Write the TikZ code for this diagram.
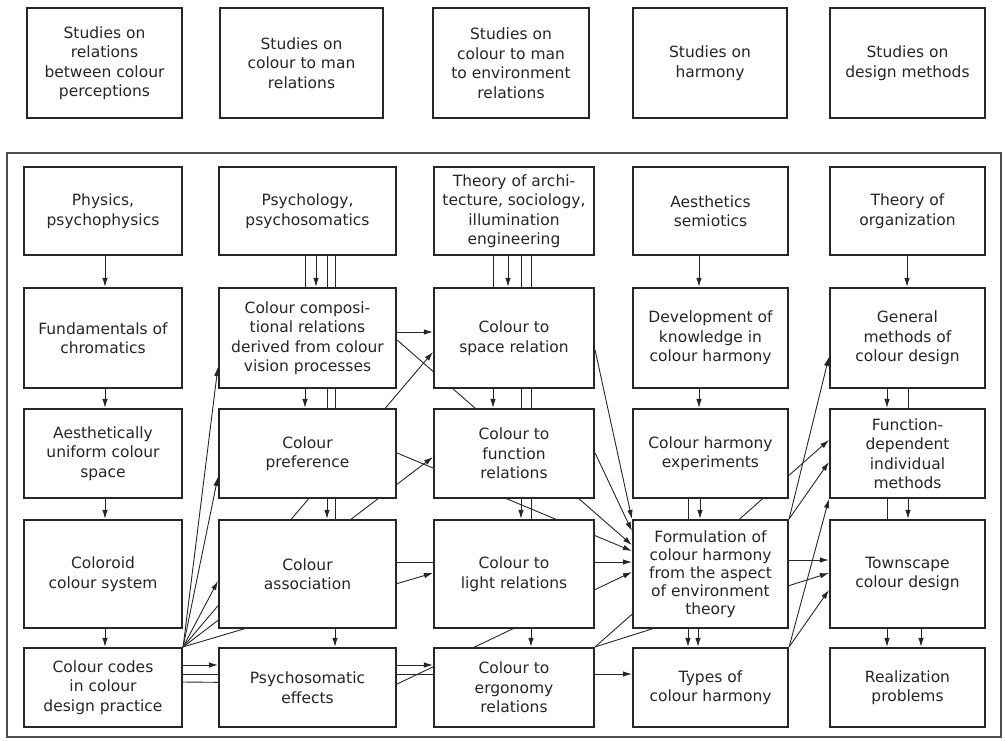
\documentclass[tikz,border=0pt]{standalone}
\usepackage{fontspec}
\setmainfont{DejaVu Sans}
\usetikzlibrary{arrows.meta}
\pgfdeclarelayer{bg}
\pgfsetlayers{bg,main}
\begin{document}
\begin{tikzpicture}[x=1pt,y=-1pt,
  box/.style={draw=black!85, line width=2.2pt, fill=white, align=center, inner sep=0pt,
    font=\fontsize{15.5}{19.5}\selectfont, text=black!85},
  conn/.style={draw=black!85, line width=0.9pt},
  arr/.style={conn, -{Latex[length=9pt,width=5.5pt]}},
  frame/.style={draw=black!70, line width=1.1pt}]
\useasboundingbox (0,0) rectangle (1006,740);
% top row
\node[box, minimum width=155, minimum height=110] (T1) at (104.5,63) {Studies on\\relations\\between colour\\perceptions};
\node[box, minimum width=163, minimum height=110] (T2) at (301.5,63) {Studies on\\colour to man\\relations};
\node[box, minimum width=156, minimum height=110] (T3) at (511,63) {Studies on\\colour to man\\to environment\\relations};
\node[box, minimum width=154, minimum height=110] (T4) at (710,63) {Studies on\\harmony};
\node[box, minimum width=155, minimum height=110] (T5) at (907.5,63) {Studies on\\design methods};
% frame
\draw[frame] (7,153) rectangle (1001,737);
% row 1
\node[box, minimum width=158, minimum height=88] (A1) at (103,211) {Physics,\\psychophysics};
\node[box, minimum width=177, minimum height=88] (B1) at (307.5,211) {Psychology,\\psychosomatics};
\node[box, minimum width=160, minimum height=88] (C1) at (514,211) {Theory of archi-\\tecture, sociology,\\illumination\\engineering};
\node[box, minimum width=155, minimum height=88] (D1) at (710.5,211) {Aesthetics\\semiotics};
\node[box, minimum width=155, minimum height=88] (E1) at (907.5,211) {Theory of\\organization};
% row 2
\node[box, minimum width=158, minimum height=100] (A2) at (103,338) {Fundamentals of\\chromatics};
\node[box, minimum width=177, minimum height=100] (B2) at (307.5,338) {Colour composi-\\tional relations\\derived from colour\\vision processes};
\node[box, minimum width=160, minimum height=100] (C2) at (514,338) {Colour to\\space relation};
\node[box, minimum width=155, minimum height=100] (D2) at (710.5,338) {Development of\\knowledge in\\colour harmony};
\node[box, minimum width=155, minimum height=100] (E2) at (907.5,338) {General\\methods of\\colour design};
% row 3
\node[box, minimum width=158, minimum height=89] (A3) at (103,453.5) {Aesthetically\\uniform colour\\space};
\node[box, minimum width=177, minimum height=89] (B3) at (307.5,453.5) {Colour\\preference};
\node[box, minimum width=160, minimum height=89] (C3) at (514,453.5) {Colour to\\function\\relations};
\node[box, minimum width=155, minimum height=89] (D3) at (710.5,453.5) {Colour harmony\\experiments};
\node[box, minimum width=155, minimum height=89] (E3) at (907.5,453.5) {Function-\\dependent\\individual\\methods};
% row 4
\node[box, minimum width=158, minimum height=108] (A4) at (103,574) {Coloroid\\colour system};
\node[box, minimum width=177, minimum height=108] (B4) at (307.5,574) {Colour\\association};
\node[box, minimum width=160, minimum height=108] (C4) at (514,574) {Colour to\\light relations};
\node[box, minimum width=155, minimum height=108, font=\fontsize{15.5}{18}\selectfont] (D4) at (710.5,574) {Formulation of\\colour harmony\\from the aspect\\of environment\\theory};
\node[box, minimum width=155, minimum height=108] (E4) at (907.5,574) {Townscape\\colour design};
% row 5
\node[box, minimum width=158, minimum height=79] (A5) at (103,687.5) {Colour codes\\in colour\\design practice};
\node[box, minimum width=177, minimum height=79] (B5) at (307.5,687.5) {Psychosomatic\\effects};
\node[box, minimum width=160, minimum height=79] (C5) at (514,687.5) {Colour to\\ergonomy\\relations};
\node[box, minimum width=155, minimum height=79] (D5) at (710.5,687.5) {Types of\\colour harmony};
\node[box, minimum width=155, minimum height=79] (E5) at (907.5,687.5) {Realization\\problems};

\begin{pgfonlayer}{bg}
% column A
\foreach \a/\b in {A1/A2,A2/A3,A3/A4,A4/A5}
  \draw[arr] (\a.south -| 105,0) -- (\b.north -| 105,0);
% column B
\draw[arr] (B1.south -| 316,0) -- (B2.north -| 316,0);
\draw[arr] (B1.south -| 305,0) -- (B3.north -| 305,0);
\draw[arr] (B1.south -| 327,0) -- (B4.north -| 327,0);
\draw[arr] (B1.south -| 335,0) -- (B5.north -| 335,0);
% column C
\draw[arr] (C1.south -| 508,0) -- (C2.north -| 508,0);
\draw[arr] (C1.south -| 493,0) -- (C3.north -| 493,0);
\draw[arr] (C1.south -| 521,0) -- (C4.north -| 521,0);
\draw[arr] (C1.south -| 531,0) -- (C5.north -| 531,0);
% column D
\draw[arr] (D1.south -| 699,0) -- (D2.north -| 699,0);
\draw[arr] (D2.south -| 699,0) -- (D3.north -| 699,0);
\draw[arr] (D3.south -| 700,0) -- (D4.north -| 700,0);
\draw[arr] (D3.south -| 688,0) -- (D5.north -| 688,0);
\draw[arr] (D4.south -| 698,0) -- (D5.north -| 698,0);
% column E
\draw[arr] (E1.south -| 907,0) -- (E2.north -| 907,0);
\draw[arr] (E2.south -| 887,0) -- (E3.north -| 887,0);
\draw[arr] (E2.south -| 908,0) -- (E4.north -| 908,0);
\draw[arr] (E3.south -| 887,0) -- (E5.north -| 887,0);
\draw[arr] (E4.south -| 921,0) -- (E5.north -| 921,0);
% cross connections
\draw[arr] (B2.east |- 0,332) -- (C2.west |- 0,332);
\draw[arr] (B2.east |- 0,340) -- (D4.west |- 0,545);
\draw[arr] (B3.east |- 0,453) -- (D4.west |- 0,551);
\draw[arr] (A5.north east) -- (C2.west |- 0,352);
\draw[arr] (A5.north east) -- (C3.west |- 0,457);
\draw[arr] (A5.north east) -- (C4.west |- 0,573);
\draw[arr] (A5.north east) -- (B2.west |- 0,367);
\draw[arr] (A5.north east) -- (B3.west |- 0,477);
\draw[arr] (A5.north east) -- (B4.west |- 0,581);
\draw[arr] (B4.east |- 0,562) -- (D4.west |- 0,562);
\draw[arr] (A5.east |- 0,682) -- (B5.east |- 0,684) -- (D4.west |- 0,572);
\draw[arr] (A5.east |- 0,674) -- (D5.west |- 0,674);
\draw[arr] (A5.east |- 0,665) -- (B5.west |- 0,665);
\draw[arr] (B5.east |- 0,665) -- (C5.west |- 0,665);
\draw[arr] (C2.east |- 0,350) -- (D4.north west);
\draw[arr] (C3.east |- 0,453) -- (D4.west |- 0,531);
\draw[arr] (C5.north east) -- (E3.west |- 0,440);
\draw[arr] (C5.north east) -- (E4.west |- 0,573);
\draw[arr] (D4.north east) -- (E2.west |- 0,357);
\draw[arr] (D4.north east) -- (E3.west |- 0,462);
\draw[arr] (D5.north east) -- (E3.south west);
\draw[arr] (D5.north east) -- (E4.west |- 0,590);
\draw[arr] (D4.east |- 0,560) -- (E4.west |- 0,560);
\end{pgfonlayer}
\end{tikzpicture}
\end{document}
